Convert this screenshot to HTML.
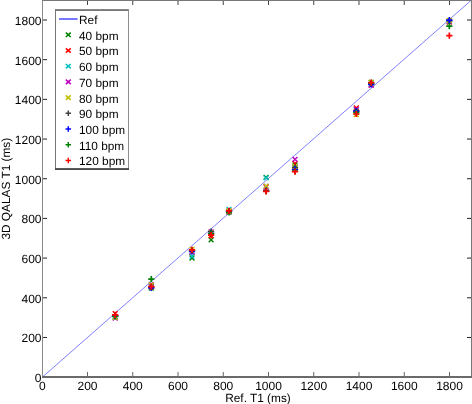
<!DOCTYPE html>
<html><head><meta charset="utf-8"><style>
html,body{margin:0;padding:0;background:#fff;}
svg{display:block;will-change:transform;}
text{font-family:"Liberation Sans", sans-serif;font-size:11.85px;fill:#000;text-rendering:geometricPrecision;}
</style></head><body>
<svg width="472" height="404" viewBox="0 0 472 404">
<rect x="0" y="0" width="472" height="404" fill="#fff"/>
<line x1="42.5" y1="377" x2="471.5" y2="0" stroke="#8080ff" stroke-width="1"/>
<path d="M112.80 314.40L117.60 319.20M112.80 319.20L117.60 314.40" stroke="#008000" stroke-width="1.4" fill="none"/>
<path d="M112.80 311.30L117.60 316.10M112.80 316.10L117.60 311.30" stroke="#ff0000" stroke-width="1.4" fill="none"/>
<path d="M112.80 314.60L117.60 319.40M112.80 319.40L117.60 314.60" stroke="#00bfbf" stroke-width="1.4" fill="none"/>
<path d="M112.80 315.60L117.60 320.40M112.80 320.40L117.60 315.60" stroke="#bf00bf" stroke-width="1.4" fill="none"/>
<path d="M112.80 314.90L117.60 319.70M112.80 319.70L117.60 314.90" stroke="#bfbf00" stroke-width="1.4" fill="none"/>
<path d="M112.10 316.00L118.30 316.00M115.20 312.90L115.20 319.10" stroke="#404040" stroke-width="1.7" fill="none"/>
<path d="M112.10 316.00L118.30 316.00M115.20 312.90L115.20 319.10" stroke="#0000ff" stroke-width="1.7" fill="none"/>
<path d="M112.10 316.50L118.30 316.50M115.20 313.40L115.20 319.60" stroke="#008000" stroke-width="1.7" fill="none"/>
<path d="M112.10 314.80L118.30 314.80M115.20 311.70L115.20 317.90" stroke="#ff0000" stroke-width="1.7" fill="none"/>
<path d="M148.90 285.60L153.70 290.40M148.90 290.40L153.70 285.60" stroke="#008000" stroke-width="1.4" fill="none"/>
<path d="M148.90 284.10L153.70 288.90M148.90 288.90L153.70 284.10" stroke="#ff0000" stroke-width="1.4" fill="none"/>
<path d="M148.90 283.10L153.70 287.90M148.90 287.90L153.70 283.10" stroke="#00bfbf" stroke-width="1.4" fill="none"/>
<path d="M148.90 282.10L153.70 286.90M148.90 286.90L153.70 282.10" stroke="#bf00bf" stroke-width="1.4" fill="none"/>
<path d="M148.90 282.60L153.70 287.40M148.90 287.40L153.70 282.60" stroke="#bfbf00" stroke-width="1.4" fill="none"/>
<path d="M148.20 287.00L154.40 287.00M151.30 283.90L151.30 290.10" stroke="#404040" stroke-width="1.7" fill="none"/>
<path d="M148.20 287.80L154.40 287.80M151.30 284.70L151.30 290.90" stroke="#0000ff" stroke-width="1.7" fill="none"/>
<path d="M148.20 279.20L154.40 279.20M151.30 276.10L151.30 282.30" stroke="#008000" stroke-width="1.7" fill="none"/>
<path d="M148.20 286.60L154.40 286.60M151.30 283.50L151.30 289.70" stroke="#ff0000" stroke-width="1.7" fill="none"/>
<path d="M189.60 255.60L194.40 260.40M189.60 260.40L194.40 255.60" stroke="#008000" stroke-width="1.4" fill="none"/>
<path d="M189.60 250.10L194.40 254.90M189.60 254.90L194.40 250.10" stroke="#ff0000" stroke-width="1.4" fill="none"/>
<path d="M189.60 253.90L194.40 258.70M189.60 258.70L194.40 253.90" stroke="#00bfbf" stroke-width="1.4" fill="none"/>
<path d="M189.60 249.10L194.40 253.90M189.60 253.90L194.40 249.10" stroke="#bf00bf" stroke-width="1.4" fill="none"/>
<path d="M189.60 247.10L194.40 251.90M189.60 251.90L194.40 247.10" stroke="#bfbf00" stroke-width="1.4" fill="none"/>
<path d="M188.90 250.50L195.10 250.50M192.00 247.40L192.00 253.60" stroke="#404040" stroke-width="1.7" fill="none"/>
<path d="M188.90 251.40L195.10 251.40M192.00 248.30L192.00 254.50" stroke="#0000ff" stroke-width="1.7" fill="none"/>
<path d="M188.90 250.50L195.10 250.50M192.00 247.40L192.00 253.60" stroke="#008000" stroke-width="1.7" fill="none"/>
<path d="M188.90 249.90L195.10 249.90M192.00 246.80L192.00 253.00" stroke="#ff0000" stroke-width="1.7" fill="none"/>
<path d="M208.70 237.40L213.50 242.20M208.70 242.20L213.50 237.40" stroke="#008000" stroke-width="1.4" fill="none"/>
<path d="M208.70 233.10L213.50 237.90M208.70 237.90L213.50 233.10" stroke="#ff0000" stroke-width="1.4" fill="none"/>
<path d="M208.70 230.60L213.50 235.40M208.70 235.40L213.50 230.60" stroke="#00bfbf" stroke-width="1.4" fill="none"/>
<path d="M208.70 229.40L213.50 234.20M208.70 234.20L213.50 229.40" stroke="#bf00bf" stroke-width="1.4" fill="none"/>
<path d="M208.70 230.60L213.50 235.40M208.70 235.40L213.50 230.60" stroke="#bfbf00" stroke-width="1.4" fill="none"/>
<path d="M208.00 231.50L214.20 231.50M211.10 228.40L211.10 234.60" stroke="#404040" stroke-width="1.7" fill="none"/>
<path d="M208.00 233.70L214.20 233.70M211.10 230.60L211.10 236.80" stroke="#0000ff" stroke-width="1.7" fill="none"/>
<path d="M208.00 233.70L214.20 233.70M211.10 230.60L211.10 236.80" stroke="#008000" stroke-width="1.7" fill="none"/>
<path d="M208.00 235.10L214.20 235.10M211.10 232.00L211.10 238.20" stroke="#ff0000" stroke-width="1.7" fill="none"/>
<path d="M226.60 209.60L231.40 214.40M226.60 214.40L231.40 209.60" stroke="#008000" stroke-width="1.4" fill="none"/>
<path d="M226.60 208.60L231.40 213.40M226.60 213.40L231.40 208.60" stroke="#ff0000" stroke-width="1.4" fill="none"/>
<path d="M226.60 206.90L231.40 211.70M226.60 211.70L231.40 206.90" stroke="#00bfbf" stroke-width="1.4" fill="none"/>
<path d="M226.60 209.40L231.40 214.20M226.60 214.20L231.40 209.40" stroke="#bf00bf" stroke-width="1.4" fill="none"/>
<path d="M226.60 208.60L231.40 213.40M226.60 213.40L231.40 208.60" stroke="#bfbf00" stroke-width="1.4" fill="none"/>
<path d="M225.90 211.00L232.10 211.00M229.00 207.90L229.00 214.10" stroke="#404040" stroke-width="1.7" fill="none"/>
<path d="M225.90 211.00L232.10 211.00M229.00 207.90L229.00 214.10" stroke="#0000ff" stroke-width="1.7" fill="none"/>
<path d="M225.90 212.30L232.10 212.30M229.00 209.20L229.00 215.40" stroke="#008000" stroke-width="1.7" fill="none"/>
<path d="M225.90 210.90L232.10 210.90M229.00 207.80L229.00 214.00" stroke="#ff0000" stroke-width="1.7" fill="none"/>
<path d="M263.70 174.90L268.50 179.70M263.70 179.70L268.50 174.90" stroke="#008000" stroke-width="1.4" fill="none"/>
<path d="M263.70 184.60L268.50 189.40M263.70 189.40L268.50 184.60" stroke="#ff0000" stroke-width="1.4" fill="none"/>
<path d="M263.70 175.40L268.50 180.20M263.70 180.20L268.50 175.40" stroke="#00bfbf" stroke-width="1.4" fill="none"/>
<path d="M263.70 184.10L268.50 188.90M263.70 188.90L268.50 184.10" stroke="#bf00bf" stroke-width="1.4" fill="none"/>
<path d="M263.70 183.80L268.50 188.60M263.70 188.60L268.50 183.80" stroke="#bfbf00" stroke-width="1.4" fill="none"/>
<path d="M263.00 191.00L269.20 191.00M266.10 187.90L266.10 194.10" stroke="#404040" stroke-width="1.7" fill="none"/>
<path d="M263.00 190.50L269.20 190.50M266.10 187.40L266.10 193.60" stroke="#0000ff" stroke-width="1.7" fill="none"/>
<path d="M263.00 191.20L269.20 191.20M266.10 188.10L266.10 194.30" stroke="#008000" stroke-width="1.7" fill="none"/>
<path d="M263.00 191.40L269.20 191.40M266.10 188.30L266.10 194.50" stroke="#ff0000" stroke-width="1.7" fill="none"/>
<path d="M292.60 162.60L297.40 167.40M292.60 167.40L297.40 162.60" stroke="#008000" stroke-width="1.4" fill="none"/>
<path d="M292.60 161.10L297.40 165.90M292.60 165.90L297.40 161.10" stroke="#ff0000" stroke-width="1.4" fill="none"/>
<path d="M292.60 164.60L297.40 169.40M292.60 169.40L297.40 164.60" stroke="#00bfbf" stroke-width="1.4" fill="none"/>
<path d="M292.60 157.00L297.40 161.80M292.60 161.80L297.40 157.00" stroke="#bf00bf" stroke-width="1.4" fill="none"/>
<path d="M292.60 164.10L297.40 168.90M292.60 168.90L297.40 164.10" stroke="#bfbf00" stroke-width="1.4" fill="none"/>
<path d="M291.90 167.50L298.10 167.50M295.00 164.40L295.00 170.60" stroke="#404040" stroke-width="1.7" fill="none"/>
<path d="M291.90 169.50L298.10 169.50M295.00 166.40L295.00 172.60" stroke="#0000ff" stroke-width="1.7" fill="none"/>
<path d="M291.90 171.20L298.10 171.20M295.00 168.10L295.00 174.30" stroke="#008000" stroke-width="1.7" fill="none"/>
<path d="M291.90 171.70L298.10 171.70M295.00 168.60L295.00 174.80" stroke="#ff0000" stroke-width="1.7" fill="none"/>
<path d="M353.90 109.60L358.70 114.40M353.90 114.40L358.70 109.60" stroke="#008000" stroke-width="1.4" fill="none"/>
<path d="M353.90 105.60L358.70 110.40M353.90 110.40L358.70 105.60" stroke="#ff0000" stroke-width="1.4" fill="none"/>
<path d="M353.90 107.60L358.70 112.40M353.90 112.40L358.70 107.60" stroke="#00bfbf" stroke-width="1.4" fill="none"/>
<path d="M353.90 107.10L358.70 111.90M353.90 111.90L358.70 107.10" stroke="#bf00bf" stroke-width="1.4" fill="none"/>
<path d="M353.90 112.10L358.70 116.90M353.90 116.90L358.70 112.10" stroke="#bfbf00" stroke-width="1.4" fill="none"/>
<path d="M353.20 111.00L359.40 111.00M356.30 107.90L356.30 114.10" stroke="#404040" stroke-width="1.7" fill="none"/>
<path d="M353.20 111.00L359.40 111.00M356.30 107.90L356.30 114.10" stroke="#0000ff" stroke-width="1.7" fill="none"/>
<path d="M353.20 112.50L359.40 112.50M356.30 109.40L356.30 115.60" stroke="#008000" stroke-width="1.7" fill="none"/>
<path d="M353.20 114.00L359.40 114.00M356.30 110.90L356.30 117.10" stroke="#ff0000" stroke-width="1.7" fill="none"/>
<path d="M368.80 80.10L373.60 84.90M368.80 84.90L373.60 80.10" stroke="#008000" stroke-width="1.4" fill="none"/>
<path d="M368.80 82.60L373.60 87.40M368.80 87.40L373.60 82.60" stroke="#ff0000" stroke-width="1.4" fill="none"/>
<path d="M368.80 81.60L373.60 86.40M368.80 86.40L373.60 81.60" stroke="#00bfbf" stroke-width="1.4" fill="none"/>
<path d="M368.80 82.60L373.60 87.40M368.80 87.40L373.60 82.60" stroke="#bf00bf" stroke-width="1.4" fill="none"/>
<path d="M368.80 80.10L373.60 84.90M368.80 84.90L373.60 80.10" stroke="#bfbf00" stroke-width="1.4" fill="none"/>
<path d="M368.10 84.00L374.30 84.00M371.20 80.90L371.20 87.10" stroke="#404040" stroke-width="1.7" fill="none"/>
<path d="M368.10 84.40L374.30 84.40M371.20 81.30L371.20 87.50" stroke="#0000ff" stroke-width="1.7" fill="none"/>
<path d="M368.10 82.80L374.30 82.80M371.20 79.70L371.20 85.90" stroke="#008000" stroke-width="1.7" fill="none"/>
<path d="M368.10 82.70L374.30 82.70M371.20 79.60L371.20 85.80" stroke="#ff0000" stroke-width="1.7" fill="none"/>
<path d="M446.95 18.60L451.75 23.40M446.95 23.40L451.75 18.60" stroke="#008000" stroke-width="1.4" fill="none"/>
<path d="M446.95 19.60L451.75 24.40M446.95 24.40L451.75 19.60" stroke="#ff0000" stroke-width="1.4" fill="none"/>
<path d="M446.95 19.10L451.75 23.90M446.95 23.90L451.75 19.10" stroke="#00bfbf" stroke-width="1.4" fill="none"/>
<path d="M446.95 19.10L451.75 23.90M446.95 23.90L451.75 19.10" stroke="#bf00bf" stroke-width="1.4" fill="none"/>
<path d="M446.95 18.10L451.75 22.90M446.95 22.90L451.75 18.10" stroke="#bfbf00" stroke-width="1.4" fill="none"/>
<path d="M446.25 21.00L452.45 21.00M449.35 17.90L449.35 24.10" stroke="#404040" stroke-width="1.7" fill="none"/>
<path d="M446.25 20.10L452.45 20.10M449.35 17.00L449.35 23.20" stroke="#0000ff" stroke-width="1.7" fill="none"/>
<path d="M446.25 26.20L452.45 26.20M449.35 23.10L449.35 29.30" stroke="#008000" stroke-width="1.7" fill="none"/>
<path d="M446.25 35.60L452.45 35.60M449.35 32.50L449.35 38.70" stroke="#ff0000" stroke-width="1.7" fill="none"/>
<rect x="42" y="0" width="1" height="378" fill="#8a8a8a"/>
<rect x="42" y="0" width="430" height="1" fill="#777"/>
<rect x="471" y="0" width="1" height="378" fill="#777"/>
<rect x="42" y="376" width="430" height="2" fill="#6a6a6a"/>
<rect x="87.00" y="372" width="1" height="4" fill="#666"/>
<rect x="87.00" y="1" width="1" height="4" fill="#444"/>
<rect x="43" y="336.97" width="4" height="1" fill="#222"/>
<rect x="467" y="336.97" width="4" height="1" fill="#222"/>
<rect x="132.25" y="372" width="1" height="4" fill="#666"/>
<rect x="132.25" y="1" width="1" height="4" fill="#444"/>
<rect x="43" y="297.28" width="4" height="1" fill="#222"/>
<rect x="467" y="297.28" width="4" height="1" fill="#222"/>
<rect x="177.50" y="372" width="1" height="4" fill="#666"/>
<rect x="177.50" y="1" width="1" height="4" fill="#444"/>
<rect x="43" y="257.60" width="4" height="1" fill="#222"/>
<rect x="467" y="257.60" width="4" height="1" fill="#222"/>
<rect x="222.75" y="372" width="1" height="4" fill="#666"/>
<rect x="222.75" y="1" width="1" height="4" fill="#444"/>
<rect x="43" y="217.91" width="4" height="1" fill="#222"/>
<rect x="467" y="217.91" width="4" height="1" fill="#222"/>
<rect x="268.00" y="372" width="1" height="4" fill="#666"/>
<rect x="268.00" y="1" width="1" height="4" fill="#444"/>
<rect x="43" y="178.23" width="4" height="1" fill="#222"/>
<rect x="467" y="178.23" width="4" height="1" fill="#222"/>
<rect x="313.25" y="372" width="1" height="4" fill="#666"/>
<rect x="313.25" y="1" width="1" height="4" fill="#444"/>
<rect x="43" y="138.55" width="4" height="1" fill="#222"/>
<rect x="467" y="138.55" width="4" height="1" fill="#222"/>
<rect x="358.50" y="372" width="1" height="4" fill="#666"/>
<rect x="358.50" y="1" width="1" height="4" fill="#444"/>
<rect x="43" y="98.86" width="4" height="1" fill="#222"/>
<rect x="467" y="98.86" width="4" height="1" fill="#222"/>
<rect x="403.75" y="372" width="1" height="4" fill="#666"/>
<rect x="403.75" y="1" width="1" height="4" fill="#444"/>
<rect x="43" y="59.18" width="4" height="1" fill="#222"/>
<rect x="467" y="59.18" width="4" height="1" fill="#222"/>
<rect x="449.00" y="372" width="1" height="4" fill="#666"/>
<rect x="449.00" y="1" width="1" height="4" fill="#444"/>
<rect x="43" y="19.49" width="4" height="1" fill="#222"/>
<rect x="467" y="19.49" width="4" height="1" fill="#222"/>
<text x="42.25" y="389.7" text-anchor="middle" style="font-size:12px">0</text>
<text x="41.5" y="382.00" text-anchor="end" style="font-size:12px">0</text>
<text x="87.50" y="389.7" text-anchor="middle" style="font-size:12px">200</text>
<text x="41.5" y="342.32" text-anchor="end" style="font-size:12px">200</text>
<text x="132.75" y="389.7" text-anchor="middle" style="font-size:12px">400</text>
<text x="41.5" y="302.63" text-anchor="end" style="font-size:12px">400</text>
<text x="178.00" y="389.7" text-anchor="middle" style="font-size:12px">600</text>
<text x="41.5" y="262.95" text-anchor="end" style="font-size:12px">600</text>
<text x="223.25" y="389.7" text-anchor="middle" style="font-size:12px">800</text>
<text x="41.5" y="223.26" text-anchor="end" style="font-size:12px">800</text>
<text x="268.50" y="389.7" text-anchor="middle" style="font-size:12px">1000</text>
<text x="41.5" y="183.58" text-anchor="end" style="font-size:12px">1000</text>
<text x="313.75" y="389.7" text-anchor="middle" style="font-size:12px">1200</text>
<text x="41.5" y="143.90" text-anchor="end" style="font-size:12px">1200</text>
<text x="359.00" y="389.7" text-anchor="middle" style="font-size:12px">1400</text>
<text x="41.5" y="104.21" text-anchor="end" style="font-size:12px">1400</text>
<text x="404.25" y="389.7" text-anchor="middle" style="font-size:12px">1600</text>
<text x="41.5" y="64.53" text-anchor="end" style="font-size:12px">1600</text>
<text x="449.50" y="389.7" text-anchor="middle" style="font-size:12px">1800</text>
<text x="41.5" y="24.84" text-anchor="end" style="font-size:12px">1800</text>
<text x="258" y="401.5" text-anchor="middle">Ref. T1 (ms)</text>
<text transform="translate(9.8,188.7) rotate(-90)" text-anchor="middle">3D QALAS T1 (ms)</text>
<rect x="55" y="9" width="74" height="161" fill="#fff"/>
<rect x="55" y="9.2" width="74" height="1.7" fill="#6a6a6a"/>
<rect x="55" y="9" width="1" height="161" fill="#777"/>
<rect x="128" y="9" width="1" height="161" fill="#8e8e8e"/>
<rect x="55" y="168.1" width="74" height="1.9" fill="#4a4a4a"/>
<rect x="59" y="18.1" width="18.6" height="1.8" fill="#6a6aff"/>
<text x="79" y="24.00">Ref</text>
<text x="79" y="39.70">40 bpm</text>
<path d="M65.85 32.60L70.75 37.00M65.85 37.00L70.75 32.60" stroke="#008000" stroke-width="1.55" fill="none"/>
<text x="79" y="55.40">50 bpm</text>
<path d="M65.85 48.30L70.75 52.70M65.85 52.70L70.75 48.30" stroke="#ff0000" stroke-width="1.55" fill="none"/>
<text x="79" y="71.10">60 bpm</text>
<path d="M65.85 64.00L70.75 68.40M65.85 68.40L70.75 64.00" stroke="#00bfbf" stroke-width="1.55" fill="none"/>
<text x="79" y="86.80">70 bpm</text>
<path d="M65.85 79.70L70.75 84.10M65.85 84.10L70.75 79.70" stroke="#bf00bf" stroke-width="1.55" fill="none"/>
<text x="79" y="102.50">80 bpm</text>
<path d="M65.85 95.40L70.75 99.80M65.85 99.80L70.75 95.40" stroke="#bfbf00" stroke-width="1.55" fill="none"/>
<text x="79" y="118.20">90 bpm</text>
<path d="M65.55 113.30L71.05 113.30M68.30 110.55L68.30 116.05" stroke="#404040" stroke-width="1.45" fill="none"/>
<text x="79" y="133.90">100 bpm</text>
<path d="M65.55 129.00L71.05 129.00M68.30 126.25L68.30 131.75" stroke="#0000ff" stroke-width="1.45" fill="none"/>
<text x="79" y="149.60">110 bpm</text>
<path d="M65.55 144.70L71.05 144.70M68.30 141.95L68.30 147.45" stroke="#008000" stroke-width="1.45" fill="none"/>
<text x="79" y="165.30">120 bpm</text>
<path d="M65.55 160.40L71.05 160.40M68.30 157.65L68.30 163.15" stroke="#ff0000" stroke-width="1.45" fill="none"/>
</svg>
</body></html>
